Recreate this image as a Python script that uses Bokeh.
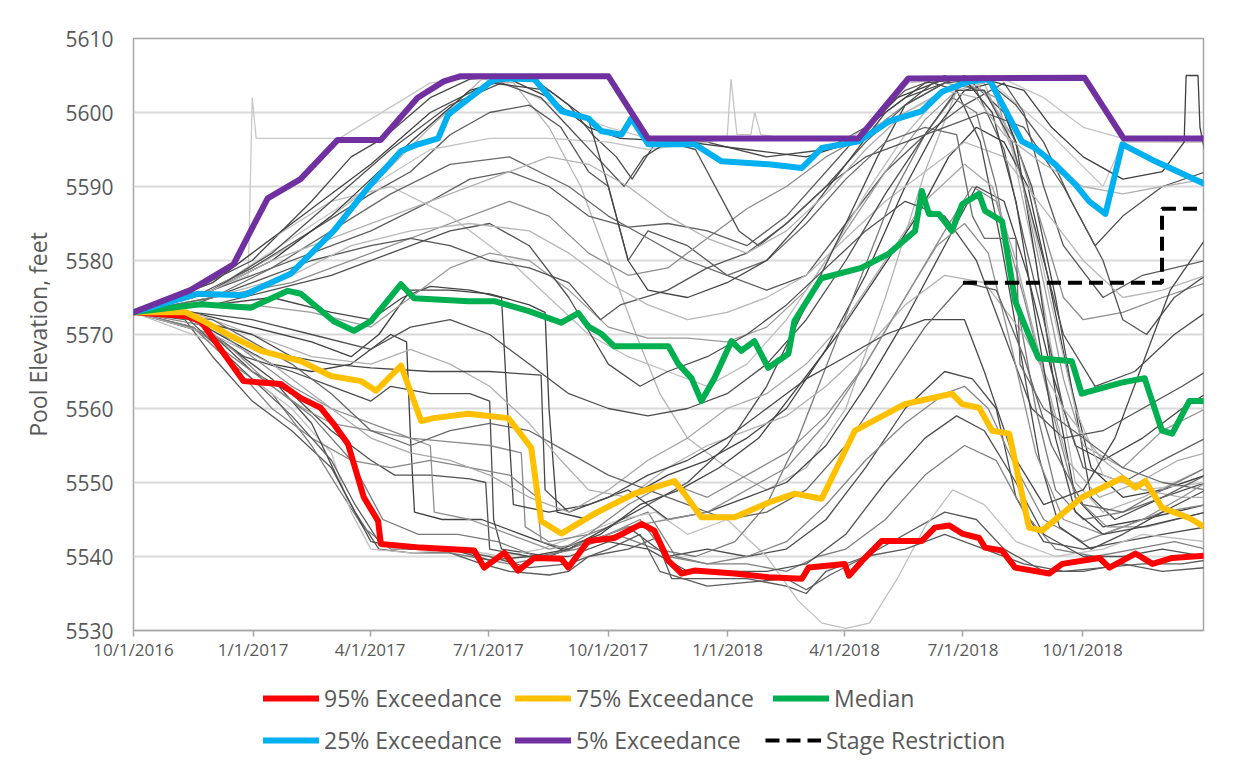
import numpy as np
import pandas as pd
from bokeh.plotting import figure
from bokeh.layouts import column
from bokeh.models import Range1d, FixedTicker, CustomJSTickFormatter, Legend, LegendItem
from bokeh.embed import file_html
from bokeh.resources import INLINE

# ---------------- data ----------------
START = "2016-10-01"          # month index 0
X_END = "2019-01-02"
TICK_DATES = ["2016-10-01", "2017-01-01", "2017-04-01", "2017-07-01", "2017-10-01",
              "2018-01-01", "2018-04-01", "2018-07-01", "2018-10-01"]
Y_TICKS = [5530, 5540, 5550, 5560, 5570, 5580, 5590, 5600, 5610]

# series points: (months since 10/1/2016, pool elevation ft)
P95 = [(0, 5573), (1.32, 5572.5), (1.70, 5571.8), (2.78, 5563.7), (3.72, 5563.3), (4.23, 5561.4),
       (4.73, 5560.1), (5.06, 5557.9), (5.42, 5555.2), (5.82, 5548), (6.18, 5544.8), (6.25, 5541.7),
       (7.27, 5541.2), (8.61, 5540.8), (8.86, 5538.5), (9.37, 5540.5), (9.72, 5538.1), (10.13, 5539.8),
       (10.81, 5539.7), (10.99, 5538.5), (11.49, 5542.1), (12.15, 5542.5), (12.84, 5544.4),
       (13.16, 5543.5), (13.52, 5539.4), (13.85, 5537.7), (14.18, 5538.1), (15.19, 5537.7),
       (16.05, 5537.2), (16.89, 5537), (17.06, 5538.5), (17.97, 5539), (18.08, 5537.4), (18.41, 5539.4),
       (18.91, 5542.1), (19.92, 5542.1), (20.25, 5543.9), (20.61, 5544.2), (20.94, 5543.1),
       (21.37, 5542.5), (21.52, 5541.2), (21.95, 5540.8), (22.28, 5538.5), (23.14, 5537.7),
       (23.47, 5539), (24.41, 5539.8), (24.66, 5538.5), (25.32, 5540.4), (25.75, 5539),
       (26.25, 5539.8), (27.09, 5540.1)]
P75 = [(0, 5573), (1.32, 5573), (1.70, 5572), (2.46, 5569.8), (3.22, 5567.8), (4.23, 5566.4),
       (4.99, 5564.4), (5.75, 5563.7), (6.13, 5562.4), (6.76, 5565.8), (7.27, 5558.3), (7.59, 5558.7),
       (8.46, 5559.3), (9.47, 5558.7), (9.72, 5557), (10.05, 5554.7), (10.30, 5544.8), (10.81, 5543.1),
       (11.65, 5545.8), (12.66, 5548.5), (13.67, 5550.2), (13.92, 5548.5), (14.35, 5545.3),
       (15.19, 5545.3), (16.05, 5547.3), (16.71, 5548.5), (17.39, 5547.8), (18.23, 5557),
       (19.49, 5560.6), (20.68, 5562), (20.94, 5560.6), (21.37, 5560.1), (21.70, 5557),
       (22.13, 5556.6), (22.63, 5543.9), (22.96, 5543.5), (23.97, 5548), (24.99, 5550.6),
       (25.32, 5549.3), (25.57, 5550.2), (25.99, 5546.6), (26.68, 5545.2), (27.09, 5543.9)]
P50 = [(0, 5573), (1.70, 5574.1), (2.96, 5573.6), (3.90, 5575.9), (4.23, 5575.5), (5.06, 5571.8),
       (5.57, 5570.5), (6.0, 5571.8), (6.76, 5576.8), (7.09, 5574.9), (8.46, 5574.5), (9.11, 5574.5),
       (9.97, 5573.2), (10.81, 5571.6), (11.24, 5572.9), (11.49, 5571.1), (11.82, 5570.1),
       (12.15, 5568.4), (13.52, 5568.4), (13.77, 5566), (14.10, 5564.1), (14.35, 5561), (14.68, 5564.1),
       (15.11, 5569.1), (15.36, 5567.8), (15.69, 5569.1), (16.04, 5565.5), (16.55, 5567.4),
       (16.70, 5571.8), (17.38, 5577.6), (18.39, 5579), (19.08, 5580.9), (19.75, 5584), (19.92, 5589.4),
       (20.10, 5586.3), (20.35, 5586.3), (20.68, 5584), (20.94, 5587.6), (21.37, 5589), (21.52, 5586.7),
       (21.95, 5585.3), (22.28, 5574.5), (22.45, 5572.2), (22.87, 5566.8), (23.71, 5566.4),
       (23.96, 5562), (24.97, 5563.5), (25.55, 5564.1), (25.99, 5557), (26.25, 5556.6), (26.68, 5561),
       (27.09, 5561)]
P25 = [(0, 5573), (1.62, 5575.5), (2.78, 5575.3), (3.97, 5578.2), (5.06, 5584), (5.92, 5589.8),
       (6.76, 5594.8), (7.19, 5595.7), (7.70, 5596.5), (7.95, 5599.7), (9.04, 5604.2), (9.29, 5604.6),
       (10.13, 5604.5), (10.81, 5600.2), (11.49, 5599.2), (11.82, 5597.5), (12.33, 5597), (12.58, 5599.2),
       (13.01, 5595.7), (14.18, 5595.7), (14.86, 5593.4), (16.05, 5593), (16.89, 5592.5), (17.39, 5595.2),
       (18.33, 5596.1), (19.09, 5598.8), (19.92, 5600.2), (20.43, 5602.8), (21.11, 5604.2),
       (21.62, 5604.5), (22.45, 5596.1), (22.78, 5595.2), (23.29, 5593), (23.80, 5590.3), (24.15, 5588),
       (24.56, 5586.3), (24.99, 5595.7), (25.82, 5593.4), (27.09, 5590.3)]
P05 = [(0, 5573), (1.44, 5576), (2.53, 5579.5), (3.01, 5584.5), (3.39, 5588.4), (4.22, 5591),
       (5.16, 5596.3), (6.25, 5596.3), (7.18, 5602), (7.84, 5604.2), (8.27, 5604.9), (12.0, 5604.9),
       (13.0, 5596.5), (18.32, 5596.5), (19.58, 5604.6), (24.03, 5604.7), (25.02, 5596.5),
       (27.09, 5596.5)]
STAGE = [(20.96, 5577), (25.99, 5577), (25.99, 5587), (27.09, 5587)]

# individual simulation traces (gray)
g01 = [(0, 5573), (1.5, 5575), (2.9, 5578), (3.0, 5602), (3.1, 5596.5), (5.2, 5596.5), (7.5, 5604), (9, 5605),
       (11, 5600), (12, 5598), (13, 5596.5), (18.3, 5596.5), (19.6, 5604), (21.5, 5605), (23, 5598),
       (24.5, 5590), (25, 5596), (27.1, 5596)]
g02 = [(0, 5573), (1.5, 5576), (3, 5580), (4.5, 5588), (5.5, 5594), (6.3, 5596.5), (7.5, 5602), (8.5, 5604.5),
       (10, 5605), (11, 5601), (11.6, 5597), (12.2, 5594), (12.6, 5591), (13.2, 5596), (14.5, 5596), (16, 5594),
       (17.5, 5595), (18.5, 5598), (19.5, 5602), (21, 5605), (22, 5600), (22.7, 5590), (23.3, 5575),
       (23.8, 5560), (24.2, 5548), (24.8, 5545), (26, 5548), (27.1, 5550)]
g03 = [(0, 5573), (2, 5576), (4, 5582), (6, 5590), (7.5, 5598), (8.8, 5604.5), (9.6, 5604), (10.5, 5598),
       (11.3, 5590), (12, 5580), (12.7, 5570), (13.3, 5562), (14, 5556), (15, 5552), (16, 5549), (17, 5552),
       (18, 5560), (19, 5575), (20, 5592), (20.8, 5603), (21.5, 5604), (22.2, 5595), (22.8, 5580),
       (23.3, 5565), (23.8, 5550), (24.5, 5546), (25.5, 5548), (27.1, 5552)]
g04 = [(0, 5573), (1.5, 5575), (3, 5579), (4.5, 5584), (6, 5589), (7, 5592), (8, 5597), (9, 5600), (10, 5601),
       (10.8, 5598), (11.5, 5592), (12, 5590), (12.5, 5580), (13, 5584), (14, 5582), (15, 5578), (16, 5576),
       (17, 5578), (18, 5585), (19, 5592), (20, 5597), (21, 5601), (22, 5604), (22.5, 5600), (23, 5590),
       (23.5, 5582), (24.5, 5575), (25.5, 5578), (27.1, 5580)]
g05 = [(0, 5573), (2, 5575), (4, 5577), (6, 5581), (8, 5585), (9.5, 5588), (10.5, 5586), (11.5, 5581),
       (12.5, 5578), (13.5, 5579), (14.5, 5583), (15.5, 5587), (16.5, 5590), (17.5, 5594), (18.5, 5597),
       (19.5, 5601), (20.5, 5604), (21.5, 5603), (22.3, 5596), (23, 5584), (23.5, 5575), (24, 5572),
       (25, 5573), (26, 5575), (27.1, 5577)]
g06 = [(0, 5573), (1.5, 5573), (3, 5571), (4.5, 5569), (5.5, 5567), (6.2, 5570), (7, 5576), (8, 5576),
       (9, 5575.5), (10, 5574), (10.4, 5573), (10.5, 5560), (10.7, 5546), (11.5, 5545), (12.5, 5548),
       (13.5, 5551), (14.5, 5553), (15.5, 5556), (16.5, 5560), (17.5, 5568), (18.5, 5578), (19.5, 5590),
       (20.3, 5598), (21, 5603), (21.7, 5604), (22.3, 5596), (22.8, 5580), (23.3, 5562), (23.8, 5548),
       (24.5, 5544), (25.5, 5545), (27.1, 5547)]
g07 = [(0, 5573), (1.5, 5572), (2.8, 5567), (4, 5565), (5, 5563), (6, 5561), (6.5, 5563), (7.5, 5562),
       (8.5, 5562), (9, 5561), (9.1, 5545), (9.3, 5541), (10.5, 5540), (11.5, 5542), (12.5, 5544),
       (13.5, 5540), (14.5, 5541), (15.5, 5540), (16.5, 5541), (17.5, 5545), (18.5, 5552), (19.5, 5560),
       (20.5, 5565), (21.2, 5564), (21.8, 5560), (22.3, 5548), (23, 5542), (24, 5541), (25, 5542),
       (26, 5543), (27.1, 5544)]
g08 = [(0, 5573), (1.3, 5572), (2, 5567), (3, 5561), (4, 5557), (5, 5552), (5.6, 5546), (6.2, 5541),
       (7, 5540.5), (8, 5540.5), (8.8, 5539), (9.5, 5538), (10.5, 5537.5), (11, 5538), (11.5, 5540),
       (12.5, 5541), (13.2, 5542.5), (13.6, 5537), (14.5, 5537), (15.5, 5537), (16.5, 5536), (17, 5535),
       (17.5, 5538), (18.5, 5540), (19.5, 5543), (20.5, 5546), (21.3, 5545), (22, 5541), (23, 5538),
       (24, 5538), (25, 5539), (26, 5538), (27.1, 5538.5)]
g09 = [(0, 5573), (1.5, 5571), (2.5, 5566), (3.5, 5562), (4.5, 5555), (5.2, 5549), (5.8, 5544), (6.5, 5541),
       (7.5, 5541), (8.5, 5540), (9.5, 5539), (10.5, 5540), (11.5, 5543), (12.5, 5545), (13, 5546),
       (13.7, 5540), (14.5, 5539), (15.5, 5539), (16.5, 5538), (17.3, 5540), (18, 5541), (19, 5545),
       (20, 5551), (21, 5555), (21.8, 5553), (22.5, 5546), (23.3, 5541), (24.3, 5540), (25.3, 5541),
       (26.3, 5542), (27.1, 5541)]
g10 = [(0, 5573), (2, 5569), (3, 5564), (4, 5560), (5, 5554), (5.5, 5546), (6, 5541), (7, 5540.5),
       (8.3, 5541), (9.3, 5540), (10.3, 5541), (11.3, 5543), (12.3, 5545), (13.2, 5546), (14, 5543),
       (15, 5545), (16, 5540), (16.8, 5534), (17.4, 5531), (18, 5530.3), (18.6, 5531), (19.3, 5537),
       (20, 5544), (20.7, 5549), (21.5, 5547), (22.3, 5542), (23.3, 5540), (24.5, 5541), (25.5, 5543),
       (27.1, 5542)]
g11 = [(0, 5573), (1.5, 5572), (2.5, 5569), (3.5, 5566), (4.5, 5565), (5.5, 5566), (6.5, 5570), (6.9, 5569),
       (7.0, 5556), (7.1, 5546), (7.8, 5545), (8.8, 5545), (9.8, 5543), (10.8, 5541), (11.8, 5543),
       (12.8, 5547), (13.8, 5549), (14.8, 5552), (15.8, 5556), (16.8, 5563), (17.8, 5570), (18.8, 5578),
       (19.8, 5586), (20.6, 5594), (21.3, 5598), (22, 5596), (22.6, 5590), (23.1, 5578), (23.6, 5565),
       (24.2, 5552), (25, 5548), (26, 5549), (27.1, 5551)]
g12 = [(0, 5573), (2, 5570), (3, 5565), (4, 5562), (5, 5557), (6, 5553), (6.6, 5551), (7.5, 5551),
       (8.5, 5550.5), (8.9, 5550), (9.0, 5541), (10, 5540), (11, 5540), (12, 5542), (13, 5541), (14, 5538),
       (15, 5538), (16, 5538), (17, 5539), (18, 5543), (19, 5550), (20, 5556), (20.8, 5559), (21.5, 5557),
       (22.3, 5550), (23, 5543), (24, 5540), (25, 5540), (26, 5541), (27.1, 5540)]
g13 = [(0, 5573), (2, 5571), (3, 5567), (4, 5563), (5, 5560), (6, 5558), (7, 5556), (8, 5555.5), (9, 5555),
       (9.8, 5554), (9.9, 5544), (10.5, 5542), (11.5, 5543), (12.5, 5547), (13.5, 5550), (14.5, 5548),
       (15.5, 5551), (16.5, 5554), (17.5, 5559), (18.5, 5566), (19.5, 5575), (20.5, 5584), (21.2, 5590),
       (21.8, 5588), (22.5, 5575), (23.2, 5560), (23.8, 5548), (24.6, 5544), (25.6, 5544), (27.1, 5546)]
g14 = [(0, 5573), (2, 5574), (3.5, 5575), (5, 5573), (6, 5572), (6.8, 5575), (7.5, 5576.5), (8.5, 5576),
       (9.3, 5575), (9.45, 5560), (9.6, 5547), (10.5, 5546), (11.5, 5547), (12.5, 5549), (13.5, 5545),
       (14.5, 5546), (15.5, 5548), (16.5, 5550), (17.5, 5555), (18.5, 5563), (19.5, 5572), (20.5, 5582),
       (21.3, 5590), (22, 5588), (22.6, 5578), (23.2, 5565), (23.8, 5555), (24.5, 5553), (25.5, 5556),
       (26.5, 5560), (27.1, 5562)]
g15 = [(0, 5573), (1.5, 5575), (3, 5578), (4.5, 5581), (6, 5584), (7.5, 5588), (8.5, 5591), (9.5, 5592),
       (10.5, 5590), (11.5, 5586), (12.5, 5584.5), (13.5, 5585), (14.5, 5584), (15.5, 5582), (16.5, 5586),
       (17.5, 5592), (18.5, 5598), (19.5, 5603), (20.5, 5605), (21.3, 5603), (22, 5595), (22.5, 5583),
       (23, 5572), (23.5, 5560), (24, 5552), (25, 5550), (26, 5553), (27.1, 5556)]
g16 = [(0, 5573), (1.5, 5574), (3, 5574), (4.5, 5573), (6, 5571), (7, 5575), (8, 5579), (9, 5581), (10, 5580),
       (11, 5576), (12, 5571), (13, 5569.5), (14, 5569.5), (15, 5569), (16, 5571), (17, 5576), (18, 5584),
       (19, 5592), (20, 5599), (21, 5604), (21.8, 5602), (22.4, 5592), (23, 5577), (23.5, 5564), (24, 5555),
       (25, 5552), (26, 5557), (27.1, 5560)]
g17 = [(0, 5573), (2, 5577), (3.5, 5583), (5, 5588), (6.5, 5590), (8, 5586), (9.5, 5580), (10.5, 5575),
       (11.5, 5570), (12.5, 5567), (13.5, 5565), (14.5, 5563), (15.5, 5566), (16.5, 5572), (17.5, 5580),
       (18.5, 5589), (19.5, 5597), (20.5, 5603), (21.3, 5604), (22, 5599), (22.6, 5588), (23.2, 5574),
       (23.8, 5560), (24.5, 5551), (25.5, 5549), (27.1, 5550)]
g18 = [(0, 5573), (2, 5576), (4, 5583), (6, 5590), (7.5, 5595), (9, 5596.5), (10.5, 5596.5), (12, 5596),
       (13, 5595), (14.5, 5596), (15.0, 5596.5), (15.1, 5604.5), (15.25, 5597), (15.6, 5597), (15.7, 5600),
       (15.85, 5597), (16.5, 5596.5), (18, 5596.5), (19.5, 5600), (21, 5604), (22, 5604.5), (23, 5602),
       (24, 5598), (25, 5596.5), (26.5, 5596), (27.1, 5596)]
g19 = [(0, 5573), (1.5, 5574), (3, 5577), (4.5, 5580), (6, 5582), (7, 5583), (8, 5582), (9, 5580), (10, 5579),
       (11, 5577), (11.8, 5572), (12.3, 5574), (13.5, 5576), (14.5, 5579), (15.5, 5581), (16.5, 5585),
       (17.5, 5590), (18.5, 5594), (19.5, 5596), (20.5, 5598), (21.5, 5600), (22.5, 5598), (23.5, 5590),
       (24.5, 5580), (25, 5572), (25.6, 5570), (26.3, 5575), (27.1, 5578)]
g20 = [(0, 5573), (2, 5576), (3.5, 5580), (5, 5586), (6, 5591), (7, 5596), (8.5, 5603), (9.5, 5604.5),
       (10.5, 5602), (11.5, 5598), (12.3, 5596.5), (14, 5596), (15.5, 5595), (17, 5594), (18.2, 5596),
       (19.3, 5602), (20.5, 5604.5), (21.5, 5604.5), (22.5, 5603), (23.2, 5598), (24, 5594), (25, 5591),
       (26, 5592), (26.55, 5596), (26.6, 5605), (26.9, 5605), (26.95, 5598), (27.1, 5594)]
g21 = [(0, 5573), (1.5, 5571), (2.5, 5566), (3.5, 5560), (4.5, 5556), (5.5, 5553), (6.5, 5552), (7.5, 5553),
       (8.5, 5552), (9.5, 5551), (10.2, 5548), (10.3, 5542), (11, 5541), (12, 5543), (12.8, 5545),
       (13.5, 5540), (14.5, 5539), (15.5, 5540), (16.5, 5542), (17.5, 5547), (18.5, 5553), (19.5, 5558),
       (20.5, 5562), (21, 5563), (21.6, 5560), (22.3, 5552), (23, 5545), (24, 5542), (25, 5544), (26, 5546),
       (27.1, 5547)]
g22 = [(0, 5573), (2, 5574), (3.5, 5576), (5, 5578), (6.5, 5581), (8, 5584), (9, 5585), (10, 5582),
       (11, 5575), (12, 5566), (12.8, 5563), (13.5, 5565), (14.5, 5567), (15.5, 5570), (16.5, 5574),
       (17.5, 5579), (18.5, 5584), (19.5, 5588), (20.5, 5586), (21.3, 5580), (22, 5570), (22.7, 5560),
       (23.5, 5556), (24.5, 5557), (25.5, 5560), (26.5, 5563), (27.1, 5565)]
g23 = [(0, 5573), (2, 5575), (4, 5578), (5.5, 5582), (7, 5584), (8.5, 5585), (10, 5584), (11, 5581),
       (12, 5577), (13, 5574), (14, 5572), (15, 5573), (16, 5575), (17, 5578), (18, 5583), (19, 5588),
       (20, 5592), (21, 5596), (22, 5594), (23, 5587), (24, 5580), (25, 5575), (26, 5576), (27.1, 5578)]
g24 = [(0, 5573), (1.5, 5572), (2.5, 5568), (3.5, 5564), (4.5, 5558), (5.3, 5549), (6, 5542), (7, 5541),
       (8, 5541), (9, 5539.5), (10, 5540), (11, 5541), (12, 5544), (13, 5547), (14, 5550), (15, 5555),
       (16, 5563), (17, 5574), (18, 5585), (18.8, 5594), (19.5, 5601), (20.2, 5604), (20.8, 5603),
       (21.4, 5596), (21.9, 5583), (22.4, 5568), (22.9, 5553), (23.4, 5544), (24.2, 5541), (25, 5543),
       (26, 5546), (27.1, 5549)]
g25 = [(0, 5573), (1.5, 5571), (2.5, 5567), (3.5, 5563), (4.5, 5559), (5.5, 5553), (6.3, 5545), (7.2, 5543),
       (8.2, 5543), (9.2, 5542), (10.2, 5540), (11.2, 5541), (12.2, 5543), (13.2, 5541), (14.2, 5540),
       (15.2, 5542), (16, 5547), (16.8, 5556), (17.6, 5567), (18.4, 5578), (19.2, 5589), (20, 5597),
       (20.7, 5602), (21.3, 5600), (21.8, 5590), (22.3, 5575), (22.8, 5560), (23.3, 5549), (24, 5545),
       (25, 5546), (26, 5549), (27.1, 5552)]
g26 = [(0, 5573), (1.5, 5573), (3, 5570), (4.5, 5567), (6, 5566), (7, 5568), (8, 5566), (9, 5563), (10, 5558),
       (10.8, 5553), (11.5, 5549), (12.5, 5548), (13.5, 5552), (14.5, 5555), (15.5, 5557), (16.5, 5559),
       (17.5, 5563), (18.5, 5568), (19.5, 5574), (20.5, 5578), (21.5, 5577), (22.5, 5570), (23.5, 5560),
       (24.5, 5553), (25.5, 5549), (26.5, 5548), (27.1, 5548)]
g27 = [(0, 5573), (1.5, 5572), (3, 5570), (4, 5567), (5, 5566), (6, 5565.5), (7.5, 5565), (9, 5565),
       (10.3, 5564.5), (10.4, 5549), (11, 5546), (12, 5548), (13, 5551), (14, 5553), (15, 5556), (16, 5560),
       (17, 5564), (18, 5567), (19, 5570), (20, 5572), (21, 5572), (21.5, 5565), (22.2, 5554), (23, 5547),
       (24, 5549), (24.8, 5556), (25.5, 5566), (26.2, 5576), (27.1, 5583)]
g28 = [(0, 5573), (2, 5575), (3.5, 5579), (5, 5584), (6.5, 5589), (8, 5593), (9.5, 5594), (11, 5590),
       (12, 5586), (13, 5583), (14, 5580), (15, 5578), (16, 5580), (17, 5585), (18, 5591), (19, 5596),
       (20, 5598), (20.8, 5597), (21.2, 5586), (21.5, 5583), (22.3, 5583), (22.4, 5566), (23, 5560),
       (24, 5556), (25, 5552), (26, 5550), (27.1, 5549)]
g29 = [(0, 5573), (2, 5570), (3.5, 5566), (5, 5560), (6, 5556), (7, 5554), (8, 5553), (9, 5551), (10, 5548),
       (11, 5546), (12, 5549), (13, 5553), (14, 5556), (15, 5560), (16, 5562), (17, 5566), (18, 5572),
       (19, 5580), (20, 5588), (21, 5593), (21.7, 5590), (22.3, 5580), (23, 5565), (23.6, 5553),
       (24.4, 5548), (25.4, 5550), (26.4, 5553), (27.1, 5554)]
g30 = [(0, 5573), (2, 5576), (3.5, 5581), (5, 5588), (6.5, 5595), (8, 5601), (9.3, 5604), (10.3, 5602),
       (11, 5598), (11.7, 5594), (12.4, 5590), (12.9, 5594), (13.5, 5596), (14.2, 5595), (14.8, 5589),
       (15.3, 5584), (15.8, 5582), (16.5, 5585), (17.5, 5590), (18.5, 5596), (19.5, 5601), (20.5, 5604),
       (21.5, 5604.5), (22.3, 5601), (23, 5596), (23.7, 5588), (24.3, 5582), (25, 5586), (26, 5590),
       (27.1, 5592)]
g31 = [(0, 5573), (1.2, 5573), (2, 5569), (3, 5564), (4, 5559), (5, 5553), (5.6, 5547), (6.2, 5542),
       (7, 5541), (8, 5541), (9, 5540), (10, 5538.5), (11, 5539), (12, 5541), (12.8, 5543), (13.3, 5538),
       (14.5, 5536), (15.5, 5536.5), (16.5, 5537), (17, 5535.5), (17.6, 5537.5), (18.5, 5540), (19.5, 5541),
       (20.5, 5543), (21.5, 5541), (22.5, 5539), (23.5, 5538), (24.5, 5538.5), (25.5, 5539), (26.5, 5539),
       (27.1, 5539.5)]
g32 = [(0, 5573), (1.5, 5572), (2.5, 5568), (3.5, 5563), (4.3, 5560), (5, 5558), (6, 5557), (7, 5556),
       (7.5, 5555), (7.6, 5546), (8.5, 5545), (9.5, 5543), (10.5, 5541), (11.5, 5542), (12.5, 5544),
       (13.5, 5545), (14.5, 5546), (15.5, 5549), (16.5, 5552), (17.5, 5558), (18.5, 5566), (19.5, 5575),
       (20.3, 5582), (21, 5585), (21.6, 5581), (22.2, 5568), (22.8, 5554), (23.5, 5545), (24.5, 5543),
       (25.5, 5545), (26.5, 5548), (27.1, 5550)]
g33 = [(0, 5573), (2, 5577), (4, 5585), (6, 5593), (7.5, 5600), (9, 5604), (10.5, 5603), (11.5, 5599),
       (12, 5590), (12.5, 5580), (13, 5576), (14, 5575), (15, 5577), (16, 5580), (17, 5586), (18, 5593),
       (19, 5600), (20, 5604), (21, 5604.5), (21.7, 5600), (22.3, 5588), (22.8, 5572), (23.3, 5556),
       (23.8, 5546), (24.5, 5543), (25.5, 5544), (27.1, 5546)]
g34 = [(0, 5573), (1.5, 5573), (3, 5572), (4.5, 5570), (6, 5568), (7, 5571), (8, 5572), (9, 5570), (10, 5566),
       (11, 5562), (12, 5560), (13, 5559), (14, 5560), (15, 5562), (16, 5566), (17, 5572), (18, 5580),
       (19, 5589), (20, 5597), (20.8, 5603), (21.5, 5603), (22.2, 5596), (22.8, 5584), (23.5, 5570),
       (24.3, 5563), (25.3, 5565), (26.3, 5570), (27.1, 5573)]
g35 = [(0, 5573), (2, 5572), (3, 5569), (4, 5566), (5, 5562), (6, 5557), (7, 5555), (8, 5557), (9, 5558),
       (10, 5557), (11, 5554), (12, 5551), (13, 5549), (14, 5547), (15, 5545), (16, 5546), (17, 5549),
       (18, 5555), (19, 5563), (20, 5571), (21, 5577), (21.8, 5576), (22.5, 5567), (23.2, 5555), (24, 5547),
       (25, 5546), (26, 5548), (27.1, 5551)]
g36 = [(0, 5573), (2, 5576), (3.5, 5580), (5, 5583), (6.5, 5586), (8, 5589), (9.5, 5592), (10.5, 5594),
       (11.5, 5593), (12.5, 5590), (13.5, 5586), (14.5, 5583), (15.5, 5581), (16.5, 5584), (17.5, 5589),
       (18.5, 5595), (19.5, 5600), (20.5, 5603), (21.3, 5602), (22, 5597), (23, 5593), (24, 5590),
       (25, 5589), (26, 5590), (27.1, 5591)]

GRAY_TRACES = [g01, g02, g03, g04, g05, g06, g07, g08, g09, g10, g11, g12, g13, g14, g15, g16, g17, g18,
               g19, g20, g21, g22, g23, g24, g25, g26, g27, g28, g29, g30, g31, g32, g33, g34, g35, g36]
GRAY_SHADES = ["#c8c8c8", "#4a4a4a", "#b4b4b4", "#5a5a5a", "#8c8c8c", "#404040", "#4d4d4d", "#595959",
               "#7f7f7f", "#c0c0c0", "#404040", "#505050", "#8a8a8a", "#454545", "#5f5f5f", "#9a9a9a",
               "#bdbdbd", "#c4c4c4", "#555555", "#3f3f3f", "#868686", "#505050", "#b8b8b8", "#4a4a4a",
               "#7a7a7a", "#b0b0b0", "#484848", "#6a6a6a", "#a8a8a8", "#525252", "#5c5c5c", "#909090",
               "#444444", "#4f4f4f", "#666666", "#b2b2b2"]

LEGEND_ROWS = [["95% Exceedance", "75% Exceedance", "Median"],
               ["25% Exceedance", "5% Exceedance", "Stage Restriction"]]

# ---------------- helpers ----------------
t0 = pd.Timestamp(START)


def to_xy(pairs):
    m = np.array([p[0] for p in pairs], dtype=float)
    v = np.array([p[1] for p in pairs], dtype=float)
    x = t0 + pd.to_timedelta(m * 30.4375, unit="D")
    return x, v


FONT = "Open Sans"
TXT = "#595959"
W = 1232

p = figure(width=W, height=672, x_axis_type="datetime", output_backend="svg",
           toolbar_location=None,
           x_range=Range1d(pd.Timestamp(START), pd.Timestamp(X_END)),
           y_range=Range1d(Y_TICKS[0], Y_TICKS[-1]),
           min_border_left=133, min_border_right=29, min_border_top=38, min_border_bottom=42)
p.background_fill_color = "white"
p.border_fill_color = "white"
p.outline_line_color = "#a6a6a6"
p.outline_line_width = 1.5

p.xgrid.grid_line_color = None
p.ygrid.grid_line_color = "#d9d9d9"
p.ygrid.grid_line_width = 2

p.yaxis.ticker = FixedTicker(ticks=Y_TICKS)
p.yaxis.major_label_text_font = FONT
p.yaxis.major_label_text_font_size = "21px"
p.yaxis.major_label_text_color = TXT
p.yaxis.major_tick_line_color = None
p.yaxis.minor_tick_line_color = None
p.yaxis.axis_line_color = None
p.yaxis.major_label_standoff = 14
p.yaxis.axis_label = "Pool Elevation, feet"
p.yaxis.axis_label_text_font = FONT
p.yaxis.axis_label_text_font_size = "23px"
p.yaxis.axis_label_text_font_style = "normal"
p.yaxis.axis_label_text_color = TXT
p.yaxis.axis_label_standoff = 8

tick_ms = [pd.Timestamp(d).value / 1e6 for d in TICK_DATES]
p.xaxis.ticker = FixedTicker(ticks=tick_ms)
p.xaxis.formatter = CustomJSTickFormatter(code="""
const d = new Date(tick);
return (d.getUTCMonth() + 1) + '/' + d.getUTCDate() + '/' + d.getUTCFullYear();
""")
p.xaxis.major_label_text_font = FONT
p.xaxis.major_label_text_font_size = "17px"
p.xaxis.major_label_text_color = TXT
p.xaxis.axis_line_color = "#a6a6a6"
p.xaxis.axis_line_width = 1.5
p.xaxis.major_tick_line_color = "#a6a6a6"
p.xaxis.major_tick_line_width = 1.5
p.xaxis.major_tick_out = 6
p.xaxis.major_tick_in = 0
p.xaxis.minor_tick_line_color = None
p.xaxis.major_label_standoff = 1

for trace, shade in zip(GRAY_TRACES, GRAY_SHADES):
    x, v = to_xy(trace)
    p.line(x, v, line_color=shade, line_width=1.3)

SERIES = [
    ("95% Exceedance", P95, "#ff0000"),
    ("75% Exceedance", P75, "#ffc000"),
    ("Median", P50, "#00b050"),
    ("25% Exceedance", P25, "#00b0f0"),
    ("5% Exceedance", P05, "#7030a0"),
]
line_styles = {}
for label, data, color in SERIES:
    x, v = to_xy(data)
    sty = dict(line_color=color, line_width=6, line_join="round", line_cap="round")
    p.line(x, v, **sty)
    line_styles[label] = sty

xs, vs = to_xy(STAGE)
stage_sty = dict(line_color="black", line_width=4, line_dash="14 7")
p.line(xs, vs, **stage_sty)
line_styles["Stage Restriction"] = stage_sty

# ---------- legend strip (separate figure so it is not clipped) ----------
LH = 84
lg = figure(width=W, height=LH, output_backend="svg", toolbar_location=None,
            x_range=Range1d(0, 1), y_range=Range1d(0, 1),
            min_border_left=0, min_border_right=0, min_border_top=0, min_border_bottom=0)
lg.axis.visible = False
lg.grid.visible = False
lg.outline_line_color = None
lg.background_fill_color = "white"
lg.border_fill_color = "white"

# legend item left edges, measured from the left edge of the plot frame
col_x = [[130, 382, 640], [130, 382, 632]]
row_bottom = [42, 0]
for r, labels in enumerate(LEGEND_ROWS):
    for c, lb in enumerate(labels):
        # proxy glyph kept outside the visible range: only its legend swatch shows
        rend = lg.line([-5, -4], [-5, -5], **line_styles[lb])
        leg = Legend(items=[LegendItem(label=lb, renderers=[rend])],
                     location=(col_x[r][c], row_bottom[r]), orientation="horizontal",
                     background_fill_alpha=0, border_line_alpha=0, padding=0, margin=0,
                     glyph_width=56, glyph_height=24, label_height=24, label_standoff=5,
                     label_text_font=FONT, label_text_font_size="23px", label_text_color=TXT)
        lg.add_layout(leg)

layout = column(p, lg, spacing=0)
open("out.html", "w").write(file_html(layout, INLINE))
